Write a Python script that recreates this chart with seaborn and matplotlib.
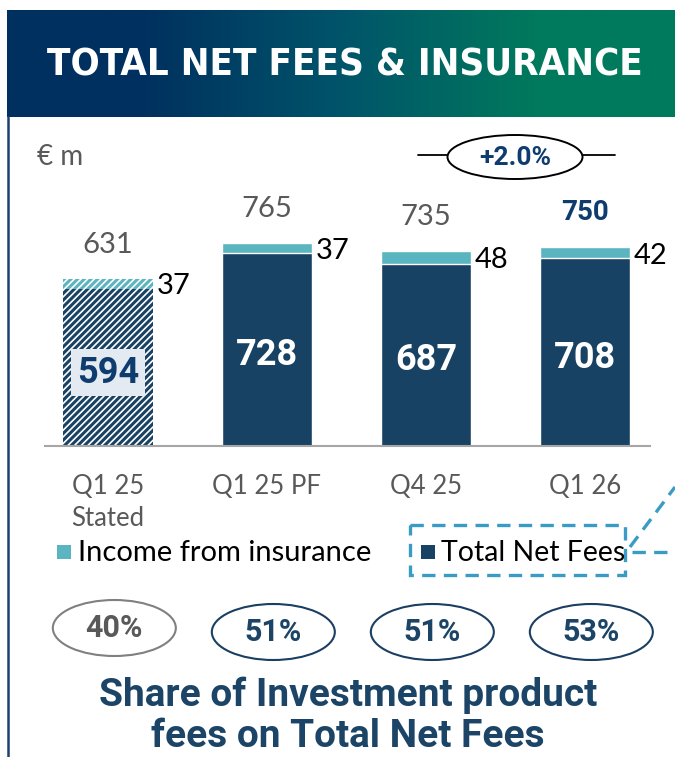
import matplotlib

matplotlib.use("Agg")
import matplotlib.font_manager as fm
import matplotlib.pyplot as plt
import numpy as np
import pandas as pd
import seaborn as sns
from matplotlib.colors import LinearSegmentedColormap
from matplotlib.patches import Ellipse, Rectangle
from matplotlib.transforms import blended_transform_factory

# data (EUR m)
quarters = ["Q1 25\nStated", "Q1 25 PF", "Q4 25", "Q1 26"]
net_fees = [594, 728, 687, 708]
insurance = [37, 37, 48, 42]
invest_share = [40, 51, 51, 53]  # % of investment product fees on total net fees

NAVY = "#184263"
TEAL = "#5bb5c0"
DARK_TXT = "#0f3c6e"
GREY_TXT = "#595959"
DASH = "#3a9cc4"

sns.set_theme(style="white")
plt.rcParams["font.family"] = ["Lato", "DejaVu Sans"]
plt.rcParams["hatch.linewidth"] = 1.2

names = {f.name for f in fm.fontManager.ttflist}
NARROW = "Liberation Sans Narrow" if "Liberation Sans Narrow" in names else "DejaVu Sans"

df = pd.DataFrame({"quarter": quarters, "net": net_fees, "ins": insurance})
df["total"] = df["net"] + df["ins"]

fig = plt.figure(figsize=(6.75, 7.57), dpi=100)
fig.patch.set_facecolor("white")

# background axes in pixel coordinates
bg = fig.add_axes([0, 0, 1, 1], zorder=0)
cmap = LinearSegmentedColormap.from_list(
    "hdr", [(0, "#00305f"), (0.2, "#00305f"), (0.5, "#00546a"), (0.8, "#007a5c"), (1, "#007a5c")]
)
bg.imshow(np.linspace(0, 1, 256).reshape(1, -1), cmap=cmap, extent=[7, 675, 117, 10], aspect="auto")
bg.set_xlim(0, 675)
bg.set_ylim(757, 0)
bg.axis("off")
bg.plot([8, 8], [117, 757], color="#1f3f73", lw=1.8)
bg.text(345, 65, "TOTAL NET FEES & INSURANCE", color="white", fontsize=27.5, fontweight="bold",
        family=NARROW, fontstretch="condensed", ha="center", va="center")
bg.text(37, 157, "€ m", color=GREY_TXT, fontsize=20, ha="left", va="center")

# bar chart
ax = fig.add_axes([45 / 675, (757 - 446) / 757, 605 / 675, 316 / 757], zorder=2)
ax.patch.set_alpha(0)
sns.barplot(data=df, x="quarter", y="total", color=TEAL, saturation=1, width=0.566,
            errorbar=None, ax=ax)
sns.barplot(data=df, x="quarter", y="net", color=NAVY, saturation=1, width=0.566,
            errorbar=None, ax=ax)
n = len(df)
for p in (ax.patches[0], ax.patches[n]):
    p.set_hatch("/////")
    p.set_edgecolor("white")
    p.set_linewidth(0)
ax.set_xlim(-0.396, 3.409)
ax.set_ylim(0, 1192)
sns.despine(ax=ax, left=True)
ax.spines["bottom"].set_color("#a6a6a6")
ax.spines["bottom"].set_linewidth(1.5)
ax.set_yticks([])
ax.set_xlabel("")
ax.set_ylabel("")
ax.tick_params(axis="x", length=0, pad=20, labelsize=18.5, labelcolor=GREY_TXT)
for lab in ax.get_xticklabels():
    lab.set_linespacing(1.35)

half = 0.566 / 2
for i, row in df.iterrows():
    last = i == n - 1
    ax.annotate(f"{row.total}", (i, row.total), xytext=(0, 15), textcoords="offset points",
                ha="center", va="bottom", fontsize=20 if last else 21,
                color=DARK_TXT if last else GREY_TXT, fontweight="bold" if last else "normal",
                family=["Roboto"] if last else ["Lato"])
    ax.annotate(f"{row.ins}", (i + half, row.net + row.ins / 2), xytext=(3, -2),
                textcoords="offset points", ha="left", va="center", fontsize=21, color="black")
    if i == 0:
        ax.annotate(f"{row.net}", (i, row.net / 2), xytext=(0, -4), textcoords="offset points",
                    ha="center", va="center", fontsize=26, fontweight="bold", color=DARK_TXT,
                    family=["Roboto"],
                    bbox=dict(boxstyle="square,pad=0.15", fc="#e3eaf2", ec="none"))
    else:
        ax.annotate(f"{row.net}", (i, row.net / 2), xytext=(0, -4), textcoords="offset points",
                    ha="center", va="center", fontsize=26, fontweight="bold", color="white",
                    family=["Roboto"])

# growth bubble between Q4 25 and Q1 26
growth = (df["total"].iloc[-1] / df["total"].iloc[-2] - 1) * 100
bt = blended_transform_factory(ax.transData, bg.transData)
gx = 2.56
bg.add_patch(Ellipse((gx, 157), 135 / 159, 44, transform=bt, fc="white", ec="black", lw=1.4, zorder=3))
bg.plot([1.95, gx - 67 / 159], [155, 155], transform=bt, color="black", lw=1.3)
bg.plot([gx + 68 / 159, 3.19], [155, 155], transform=bt, color="black", lw=1.3)
bg.text(gx, 158, f"{growth:+.1f}%", transform=bt, ha="center", va="center", fontsize=19,
        fontweight="bold", color=DARK_TXT, family=["Roboto"], zorder=4)

# legend
bg.add_patch(Rectangle((57, 545), 14, 14, fc=TEAL, ec="none"))
bg.text(78, 553, "Income from insurance", fontsize=21, color="black", ha="left", va="center")
bg.add_patch(Rectangle((421, 545), 14, 14, fc=NAVY, ec="none"))
bg.text(441, 553, "Total Net Fees", fontsize=20.5, color="black", ha="left", va="center")
bg.add_patch(Rectangle((410, 525), 215, 50, fc="none", ec=DASH, lw=2.4, ls=(0, (4, 2.5))))
bg.plot([630, 675], [547, 487], color=DASH, lw=2.4, ls=(0, (4, 2.5)))
bg.plot([632, 675], [552, 552], color=DASH, lw=2.4, ls=(0, (4, 2.5)))

# share of investment product fees
for i, s in enumerate(invest_share):
    first = i == 0
    ec = "#808080" if first else "#1b3f63"
    tc = GREY_TXT if first else "#1b4466"
    cy = 628 if first else 632
    bg.add_patch(Ellipse((i + 0.04, cy), 123 / 159, 56, transform=bt, fc="white", ec=ec, lw=1.5))
    bg.text(i + 0.04, cy, f"{s}%", transform=bt, ha="center", va="center", fontsize=22,
            fontweight="bold", color=tc, family=["Roboto"])

bg.text(348, 716, "Share of Investment product\nfees on Total Net Fees", ha="center", va="center",
        fontsize=28, fontweight="bold", color="#1b4466", family=["Roboto"], linespacing=1.15)

fig.savefig("out.png", dpi=100)
